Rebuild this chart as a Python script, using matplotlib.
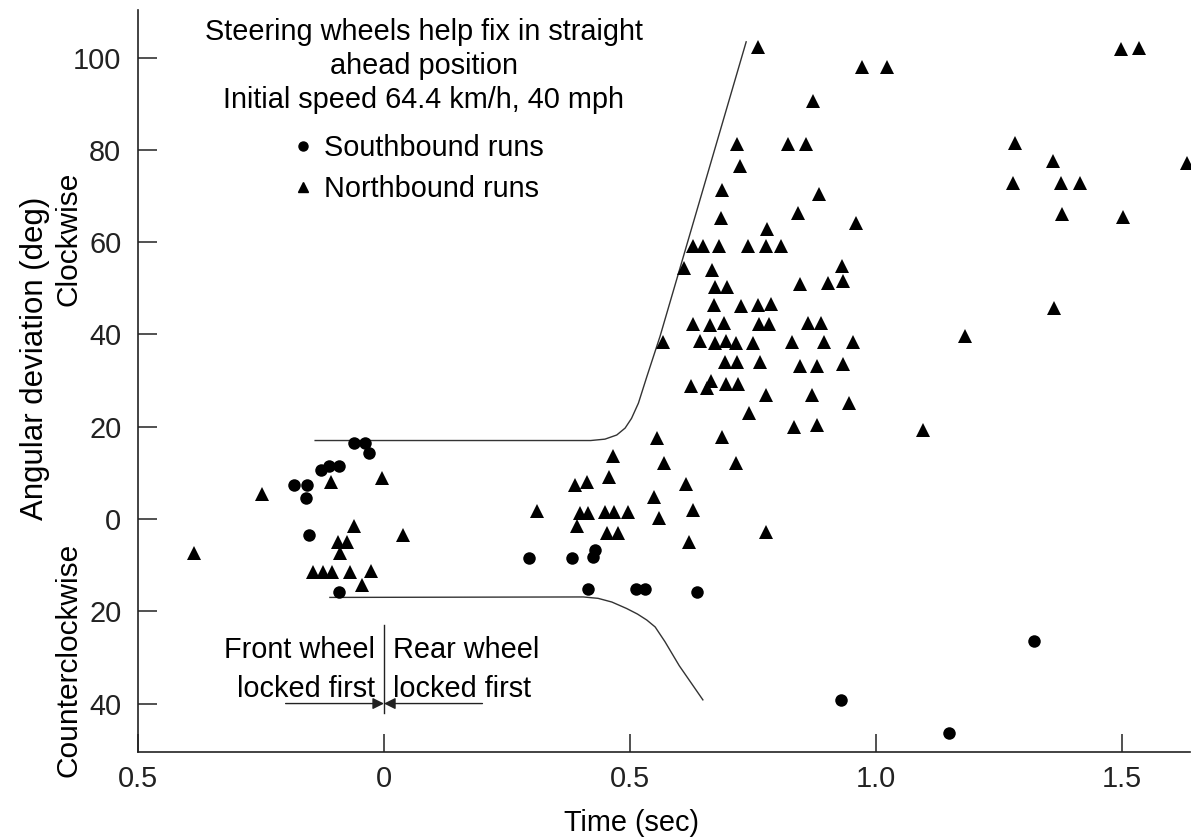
import numpy as np
import matplotlib
matplotlib.use("Agg")
import matplotlib.pyplot as plt
from matplotlib.lines import Line2D

plt.rcParams['font.family'] = ['Liberation Sans', 'DejaVu Sans']

# Southbound runs (circles)
south_x = [-0.061, -0.039, -0.030, -0.128, -0.112, -0.091, -0.183, -0.157, -0.159,
           -0.153, -0.091, 0.295, 0.382, 0.429, 0.425, 0.415, 0.512, 0.530, 0.636,
           0.929, 1.148, 1.321]
south_y = [16.5, 16.5, 14.3, 10.6, 11.5, 11.5, 7.4, 7.4, 4.6,
           -3.5, -15.8, -8.5, -8.5, -6.7, -8.2, -15.2, -15.2, -15.2, -15.8,
           -39.2, -46.4, -26.4]

# Northbound runs (triangles)
north_x = [-0.248, -0.108, -0.004, -0.386, -0.061, -0.093, -0.075, -0.089, 0.039,
           -0.144, -0.124, -0.106, -0.069, -0.026, -0.045,
           0.311, 0.388, 0.413, 0.392, 0.398, 0.415, 0.449, 0.467, 0.496, 0.453,
           0.476, 0.465, 0.457, 0.555, 0.569, 0.549, 0.559, 0.614, 0.628, 0.620,
           0.687, 0.715, 0.776, 0.833, 0.880, 1.096,
           0.610, 0.667, 0.673, 0.697, 0.671, 0.726, 0.760, 0.787, 0.628, 0.663,
           0.691, 0.762, 0.783, 0.862, 0.888, 0.567, 0.642, 0.673, 0.695, 0.715,
           0.750, 0.829, 0.894, 0.953, 0.693, 0.717, 0.764, 0.846, 0.880, 0.933,
           0.624, 0.665, 0.657, 0.695, 0.720, 0.776, 0.870, 0.945, 0.742, 0.931,
           0.846, 0.902, 0.933, 0.628, 0.648, 0.681, 0.740, 0.776, 0.807, 0.760,
           0.972, 1.022, 0.872, 0.717, 0.821, 0.858, 0.724, 0.687, 0.884, 0.685,
           0.841, 0.959, 0.778, 1.181,
           1.498, 1.535, 1.283, 1.360, 1.632, 1.278, 1.376, 1.415, 1.378, 1.502, 1.362]
north_y = [5.4, 8.0, 8.9, -7.4, -1.5, -5.0, -5.0, -7.4, -3.5,
           -11.5, -11.5, -11.5, -11.5, -11.3, -14.3,
           1.7, 7.4, 8.0, -1.5, 1.3, 1.3, 1.5, 1.5, 1.5, -3.0,
           -3.0, 13.7, 9.1, 17.6, 12.1, 4.8, 0.2, 7.6, 2.0, -5.0,
           17.8, 12.1, -2.8, 19.9, 20.4, 19.3,
           54.4, 54.0, 50.3, 50.3, 46.4, 46.2, 46.4, 46.6, 42.3, 42.0,
           42.5, 42.3, 42.3, 42.5, 42.5, 38.4, 38.6, 38.1, 38.6, 38.1,
           38.1, 38.4, 38.4, 38.4, 34.0, 34.0, 34.0, 33.2, 33.2, 33.6,
           28.8, 29.9, 28.4, 29.3, 29.3, 26.9, 26.9, 25.1, 23.0, 54.8,
           50.9, 51.1, 51.6, 59.2, 59.2, 59.2, 59.2, 59.2, 59.2, 102.3,
           98.0, 98.0, 90.6, 81.3, 81.3, 81.3, 76.5, 71.3, 70.4, 65.2,
           66.3, 64.2, 62.9, 39.7,
           101.9, 102.1, 81.5, 77.6, 77.2, 72.8, 72.8, 72.8, 66.1, 65.5, 45.7]

# boundary curves
upper_x = [-0.14, 0.42, 0.449, 0.473, 0.490, 0.503, 0.517, 0.534, 0.561, 0.736]
upper_y = [17.0, 17.0, 17.3, 18.2, 19.7, 21.8, 25.1, 30.8, 39.6, 103.4]
lower_x = [-0.11, 0.405, 0.435, 0.463, 0.493, 0.515, 0.534, 0.551, 0.571, 0.600, 0.648]
lower_y = [-17.0, -16.9, -17.2, -18.0, -19.4, -20.6, -21.9, -23.4, -26.6, -31.8, -39.2]

xticks = [-0.5, 0, 0.5, 1.0, 1.5]
xtick_labels = ['0.5', '0', '0.5', '1.0', '1.5']
yticks = [-40, -20, 0, 20, 40, 60, 80, 100]
ytick_labels = ['40', '20', '0', '20', '40', '60', '80', '100']

W, H = 1191, 838
fig = plt.figure(figsize=(W / 100, H / 100), dpi=100)
ax = fig.add_axes([138 / W, 1 - 752 / H, 1052 / W, 742 / H])

fs = 20.8
ax.plot(upper_x, upper_y, color='#333333', lw=1.0)
ax.plot(lower_x, lower_y, color='#333333', lw=1.0)
ax.plot(north_x, north_y, ls='', marker='^', ms=9.8, color='black', mew=0)
ax.plot(south_x, south_y, ls='', marker='o', ms=9, color='black', mew=0)

ax.set_xlim(-0.5, 1.638)
ax.set_ylim(-50.5, 110.3)

for s in ['top', 'right']:
    ax.spines[s].set_visible(False)
for s in ['left', 'bottom']:
    ax.spines[s].set_linewidth(1.2)
    ax.spines[s].set_color('#222222')

ax.set_xticks(xticks)
ax.set_xticklabels(xtick_labels)
ax.set_yticks(yticks)
ax.set_yticklabels(ytick_labels)
ax.tick_params(axis='x', direction='in', length=13, width=1.1, pad=9,
               labelsize=fs, colors='#222222')
ax.tick_params(axis='y', direction='in', length=14, width=1.1, pad=12,
               labelsize=fs, colors='#222222')

ax.set_xlabel('Time (sec)', fontsize=fs)
ax.xaxis.set_label_coords(0.469, -0.077)

fig.text(35 / W, 1 - 358 / H, 'Angular deviation (deg)', rotation=90,
         ha='center', va='center', fontsize=22.5)
fig.text(68 / W, 1 - 239 / H, 'Clockwise', rotation=90,
         ha='center', va='center', fontsize=21.5)
fig.text(68 / W, 1 - 660 / H, 'Counterclockwise', rotation=90,
         ha='center', va='center', fontsize=21.5)

# header text
ax.text(0.081, 105.5, 'Steering wheels help fix in straight', ha='center', va='center', fontsize=fs)
ax.text(0.081, 98.2, 'ahead position', ha='center', va='center', fontsize=fs)
ax.text(0.081, 90.8, 'Initial speed 64.4 km/h, 40 mph', ha='center', va='center', fontsize=fs)

handles = [Line2D([], [], ls='', marker='o', ms=6.5, color='black'),
           Line2D([], [], ls='', marker='^', ms=7.5, color='black')]
ax.legend(handles, ['Southbound runs', 'Northbound runs'], loc='upper left',
          bbox_to_anchor=(0.149, 0.833), frameon=False, fontsize=fs,
          handlelength=0.6, handletextpad=0.4, labelspacing=0.45, borderpad=0,
          borderaxespad=0)

# front / rear wheel annotation
ax.plot([0, 0], [-23, -42], color='#222222', lw=1.0)
ax.annotate('', xy=(0, -40), xytext=(-0.2, -40),
            arrowprops=dict(arrowstyle='-|>', color='#222222', lw=1.0, mutation_scale=17,
                            shrinkA=0, shrinkB=0))
ax.annotate('', xy=(0, -40), xytext=(0.2, -40),
            arrowprops=dict(arrowstyle='-|>', color='#222222', lw=1.0, mutation_scale=17,
                            shrinkA=0, shrinkB=0))
ax.text(-0.018, -32.6, 'Front wheel\nlocked first', ha='right', va='center',
        multialignment='right', fontsize=fs, linespacing=1.5)
ax.text(0.018, -32.6, 'Rear wheel\nlocked first', ha='left', va='center',
        multialignment='left', fontsize=fs, linespacing=1.5)

fig.savefig('out.png', dpi=100)
